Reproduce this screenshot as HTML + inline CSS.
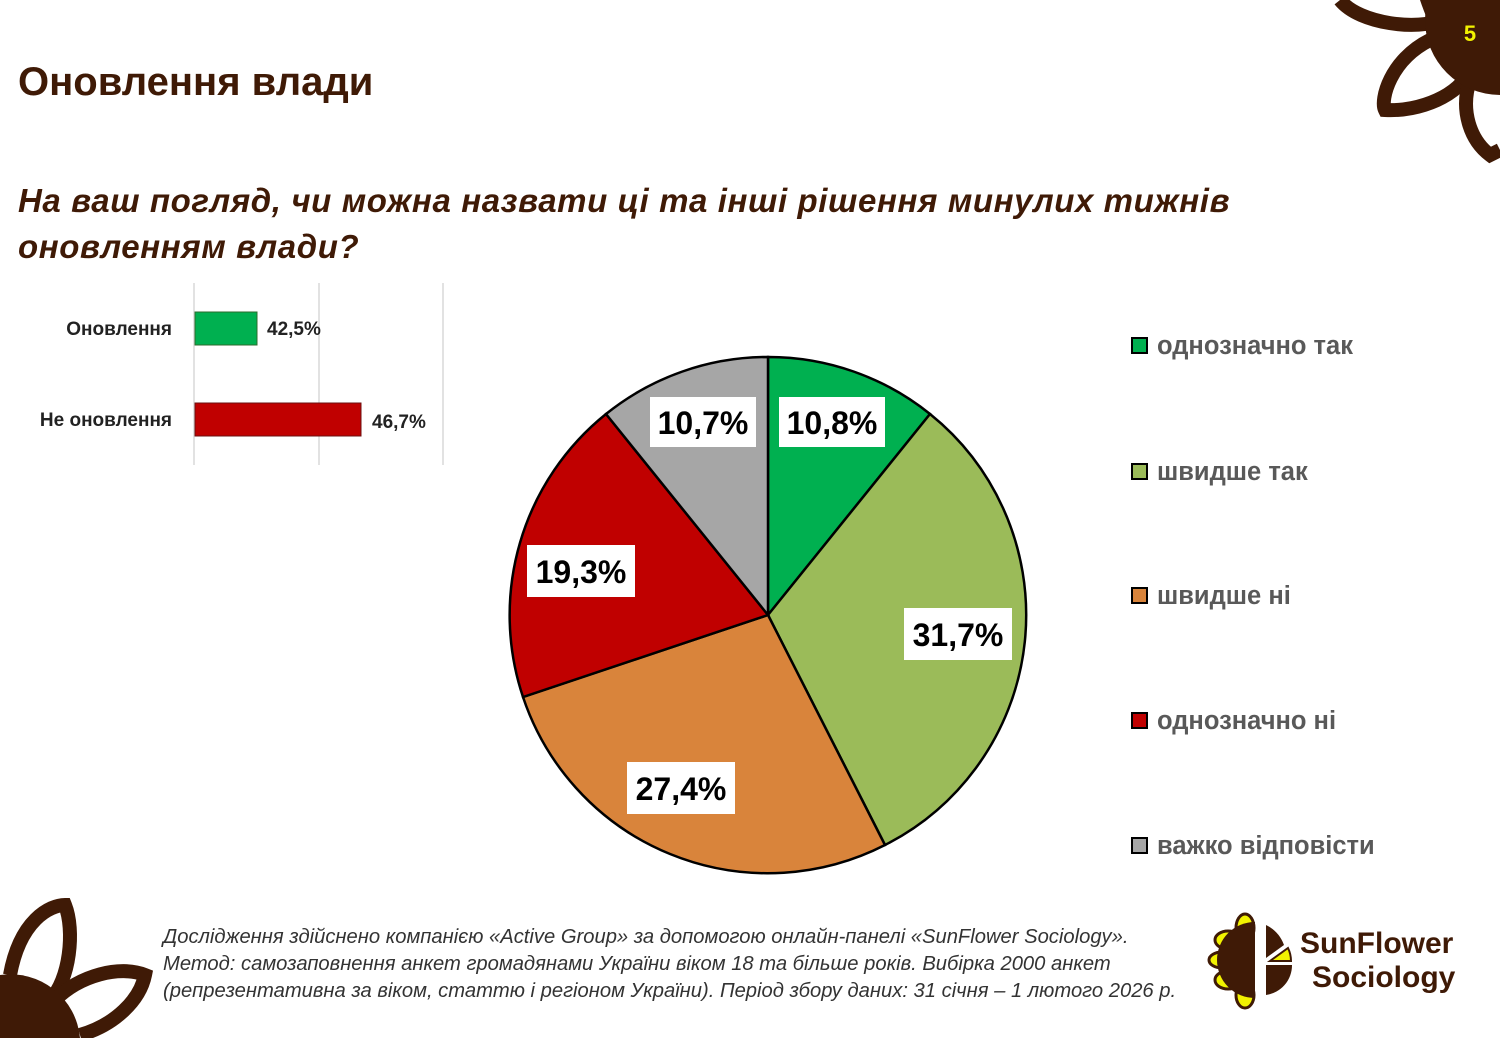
<!DOCTYPE html>
<html><head><meta charset="utf-8"><style>
html,body{margin:0;width:1500px;height:1038px;background:#fff;overflow:hidden}
body{position:relative;font-family:"Liberation Sans","DejaVu Sans",sans-serif}
.a{position:absolute;white-space:nowrap}
</style></head><body>
<svg class="a" style="left:0;top:0;overflow:hidden" width="1500" height="1038">
<g fill="none" stroke="#3f1a06" stroke-width="14">
<path d="M1340 0 C1360 25 1420 30 1440 20"/>
<path d="M1430 40 C1390 60 1380 100 1385 110 C1420 112 1460 95 1470 70"/>
<path d="M1470 80 C1460 110 1470 140 1490 155 L1500 150"/>
</g>
<path d="M1420 0 L1500 0 L1500 90 C1470 80 1440 60 1420 0Z" fill="#3f1a06"/>
<circle cx="1500" cy="20" r="75" fill="#3f1a06"/>
<text x="1470" y="41" font-size="22" font-weight="bold" fill="#f2f200" text-anchor="middle" font-family="Liberation Sans">5</text>
<g fill="none" stroke="#3f1a06" stroke-width="14">
<path d="M10 975 C20 920 50 905 65 905 C75 930 70 980 50 1000"/>
<path d="M55 1000 C80 975 120 965 145 975 C140 1000 115 1025 80 1035"/>
</g>
<path d="M0 975 A70 70 0 0 1 80 1038 L0 1038Z" fill="#3f1a06"/>
<g stroke="#d9d9d9" stroke-width="1.5"><line x1="194" y1="283" x2="194" y2="465"/><line x1="319" y1="283" x2="319" y2="465"/><line x1="443" y1="283" x2="443" y2="465"/></g>
<rect x="195" y="312" width="62" height="33" fill="#00b050" stroke="#2d6b2d" stroke-width="1"/>
<rect x="195" y="403" width="166" height="33" fill="#c00000" stroke="#6b1010" stroke-width="1"/>
<text x="172" y="335" font-size="19" font-weight="bold" fill="#222" text-anchor="end">Оновлення</text>
<text x="172" y="426" font-size="19" font-weight="bold" fill="#222" text-anchor="end">Не оновлення</text>
<text x="267" y="335" font-size="19" font-weight="bold" fill="#222">42,5%</text>
<text x="372" y="428" font-size="19" font-weight="bold" fill="#222">46,7%</text>
<g stroke="#000" stroke-width="2.5">
<path d="M768 615 L768 357 A258 258 0 0 1 930 414 Z" fill="#00b050"/>
<path d="M768 615 L930 414 A258 258 0 0 1 885 845 Z" fill="#9bbb59"/>
<path d="M768 615 L885 845 A258 258 0 0 1 523 697 Z" fill="#d9843b"/>
<path d="M768 615 L523 697 A258 258 0 0 1 606 414 Z" fill="#c00000"/>
<path d="M768 615 L606 414 A258 258 0 0 1 768 357 Z" fill="#a6a6a6"/>
</g>
<g font-size="32" font-weight="bold" fill="#000" text-anchor="middle">
<rect x="650" y="397" width="106" height="50" fill="#fff"/><text x="703" y="434">10,7%</text>
<rect x="779" y="397" width="106" height="50" fill="#fff"/><text x="832" y="434">10,8%</text>
<rect x="904" y="608" width="108" height="52" fill="#fff"/><text x="958" y="646">31,7%</text>
<rect x="527" y="545" width="108" height="52" fill="#fff"/><text x="581" y="583">19,3%</text>
<rect x="627" y="762" width="108" height="52" fill="#fff"/><text x="681" y="800">27,4%</text>
</g>
<g stroke="#000" stroke-width="2">
<rect x="1132" y="338" width="15" height="15" fill="#00b050"/>
<rect x="1132" y="464" width="15" height="15" fill="#9bbb59"/>
<rect x="1132" y="588" width="15" height="15" fill="#d9843b"/>
<rect x="1132" y="713" width="15" height="15" fill="#c00000"/>
<rect x="1132" y="838" width="15" height="15" fill="#a6a6a6"/>
</g>
<g font-size="25.5" font-weight="bold" fill="#595959">
<text x="1157" y="354">однозначно так</text>
<text x="1157" y="480">швидше так</text>
<text x="1157" y="604">швидше ні</text>
<text x="1157" y="729">однозначно ні</text>
<text x="1157" y="854">важко відповісти</text>
</g>
<g fill="#f2f200" stroke="#3f1a06" stroke-width="3">
<ellipse cx="1245" cy="928" rx="9" ry="14"/><ellipse cx="1228" cy="940" rx="13" ry="9"/><ellipse cx="1222" cy="960" rx="13" ry="8"/><ellipse cx="1228" cy="980" rx="13" ry="9"/><ellipse cx="1245" cy="995" rx="9" ry="13"/>
</g>
<path d="M1255 922 A38 38 0 0 0 1255 998Z" fill="#3f1a06"/>
<path d="M1266 925 A36 36 0 0 1 1284 945 L1266 958Z M1266 965 L1292 965 A30 30 0 0 1 1266 995Z" fill="#3f1a06"/>
<path d="M1270 961 L1288 948 A30 30 0 0 1 1291 961Z" fill="#f2f200" stroke="#3f1a06" stroke-width="2"/>
<text x="1300" y="953" font-size="30" font-weight="bold" fill="#3f1a06">SunFlower</text>
<text x="1312" y="987" font-size="30" font-weight="bold" fill="#3f1a06">Sociology</text>
</svg>
<div class="a" style="left:18px;top:60px;font-size:40px;font-weight:bold;color:#3f1a06">Оновлення влади</div>
<div class="a" style="left:18px;top:178px;font-size:33px;letter-spacing:0.6px;font-weight:bold;font-style:italic;color:#3f1a06;line-height:46px">На ваш погляд, чи можна назвати ці та інші рішення минулих тижнів<br>оновленням влади?</div>
<div class="a" style="left:163px;top:924px;font-size:20.2px;font-style:italic;color:#333;line-height:27px">Дослідження здійснено компанією «Active Group» за допомогою онлайн-панелі «SunFlower Sociology».<br>Метод: самозаповнення анкет громадянами України віком 18 та більше років. Вибірка 2000 анкет<br>(репрезентативна за віком, статтю і регіоном України). Період збору даних: 31 січня – 1 лютого 2026 р.</div>
</body></html>
